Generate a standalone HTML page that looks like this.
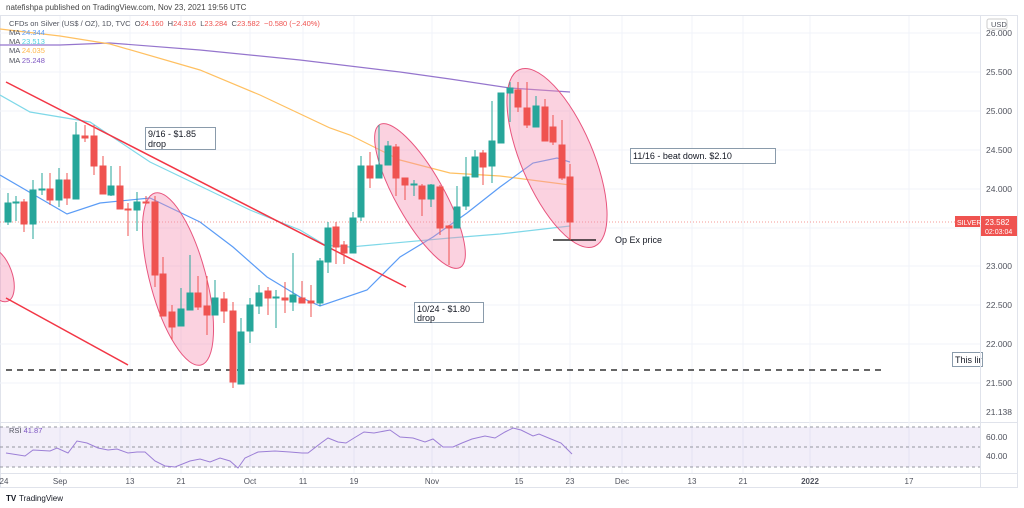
<!DOCTYPE html>
<html><head><meta charset="utf-8"><style>
html,body{margin:0;padding:0;background:#fff;width:1024px;height:508px;overflow:hidden}
svg text{font-family:"Liberation Sans",sans-serif}
</style></head><body>
<svg width="1024" height="508" viewBox="0 0 1024 508" xmlns="http://www.w3.org/2000/svg">
<rect x="0" y="0" width="1024" height="508" fill="#fff"/>
<text x="6" y="10" font-size="8" fill="#444">natefishpa published on TradingView.com, Nov 23, 2021 19:56 UTC</text>
<!-- frame -->
<rect x="0.5" y="15.5" width="1017" height="472" fill="none" stroke="#e0e3eb"/>
<line x1="980.5" y1="15" x2="980.5" y2="488" stroke="#e0e3eb"/>
<line x1="0" y1="422.5" x2="1018" y2="422.5" stroke="#e0e3eb"/>
<line x1="0" y1="473.5" x2="1018" y2="473.5" stroke="#e0e3eb"/>
<!-- grid -->
<g stroke="#f0f3fa" stroke-width="1">
<line x1="60" y1="16" x2="60" y2="473"/><line x1="130" y1="16" x2="130" y2="473"/><line x1="181" y1="16" x2="181" y2="473"/><line x1="250" y1="16" x2="250" y2="473"/><line x1="303" y1="16" x2="303" y2="473"/><line x1="354" y1="16" x2="354" y2="473"/><line x1="432" y1="16" x2="432" y2="473"/><line x1="519" y1="16" x2="519" y2="473"/><line x1="570" y1="16" x2="570" y2="473"/><line x1="622" y1="16" x2="622" y2="473"/><line x1="692" y1="16" x2="692" y2="473"/><line x1="743" y1="16" x2="743" y2="473"/><line x1="810" y1="16" x2="810" y2="473"/><line x1="909" y1="16" x2="909" y2="473"/>
<line x1="0" y1="33" x2="980" y2="33"/><line x1="0" y1="72" x2="980" y2="72"/><line x1="0" y1="111" x2="980" y2="111"/><line x1="0" y1="150" x2="980" y2="150"/><line x1="0" y1="189" x2="980" y2="189"/><line x1="0" y1="228" x2="980" y2="228"/><line x1="0" y1="266" x2="980" y2="266"/><line x1="0" y1="305" x2="980" y2="305"/><line x1="0" y1="344" x2="980" y2="344"/><line x1="0" y1="383" x2="980" y2="383"/>
</g>
<!-- price axis -->
<g font-size="8.5" fill="#50535e">
<rect x="987" y="19" width="20" height="10" rx="2" fill="none" stroke="#ccc"/><text x="991" y="27" font-size="7.5">USD</text>
<text x="986" y="36">26.000</text><text x="986" y="75">25.500</text><text x="986" y="114">25.000</text><text x="986" y="153">24.500</text><text x="986" y="192">24.000</text><text x="986" y="269">23.000</text><text x="986" y="308">22.500</text><text x="986" y="347">22.000</text><text x="986" y="386">21.500</text><text x="986" y="415">21.138</text>
<text x="986" y="440">60.00</text><text x="986" y="459">40.00</text>
</g>
<!-- RSI pane -->
<rect x="0" y="427" width="980" height="40" fill="#7e57c2" fill-opacity="0.1"/>
<g stroke="#9598a1" stroke-dasharray="3,3" stroke-width="1"><line x1="0" y1="427" x2="980" y2="427"/><line x1="0" y1="447" x2="980" y2="447"/><line x1="0" y1="467" x2="980" y2="467"/></g>
<text x="9" y="433" font-size="7.5" fill="#50535e">RSI <tspan fill="#7e57c2">41.87</tspan></text>
<polyline fill="none" stroke="#9c7fd6" stroke-width="1" points="6,453 25,456 33,450 50,451 57,448 68,453 77,441 87,443 98,448 108,450 117,449 128,453 137,452 145,452 155,461 165,466 175,467 190,461 200,459 210,462 220,458 230,461 238,468 245,458 258,452 275,451 290,452 302,453 308,453 321,443 328,438 338,442 346,443 354,438 364,432 374,433 390,430 400,437 413,438 425,442 433,439 443,447 453,447 462,443 472,439 485,436 495,438 505,432 513,428 521,430 533,436 539,434 551,439 561,443 572,454"/>
<!-- dates -->
<g font-size="8" fill="#50535e" text-anchor="middle">
<text x="4" y="484">24</text><text x="60" y="484">Sep</text><text x="130" y="484">13</text><text x="181" y="484">21</text><text x="250" y="484">Oct</text><text x="303" y="484">11</text><text x="354" y="484">19</text><text x="432" y="484">Nov</text><text x="519" y="484">15</text><text x="570" y="484">23</text><text x="622" y="484">Dec</text><text x="692" y="484">13</text><text x="743" y="484">21</text><text x="810" y="484" font-weight="bold">2022</text><text x="909" y="484">17</text>
</g>
<text x="6" y="501" font-size="8" font-weight="bold" fill="#131722">TV</text><text x="19" y="501" font-size="8" fill="#131722">TradingView</text>
<!-- MAs -->
<polyline fill="none" stroke="#9575cd" stroke-width="1.2" points="0,45 60,45 110,43 200,50 300,60 400,72 450,79 510,88 570,92"/>
<polyline fill="none" stroke="#ffc061" stroke-width="1.2" points="0,29 60,36 110,44 200,70 260,95 330,128 350,135 400,160 450,173 500,176 570,185"/>
<polyline fill="none" stroke="#7fd8e8" stroke-width="1.2" points="0,95 30,112 90,122 150,162 200,186 250,210 300,230 325,245 350,247 450,238 500,234 570,226"/>
<polyline fill="none" stroke="#5b9cf6" stroke-width="1.2" points="0,175 67,214 100,203 150,198 200,222 233,247 267,277 300,297 320,306 367,290 400,257 433,237 467,213 500,187 533,163 557,158 570,162"/>
<!-- dotted last price -->
<line x1="0" y1="222" x2="955" y2="222" stroke="#ef5350" stroke-opacity="0.6" stroke-dasharray="1,2"/>
<!-- ellipses -->
<g fill="#f48fb1" fill-opacity="0.4" stroke="#e8557e" stroke-width="1">
<ellipse cx="-2" cy="275" rx="28" ry="14" transform="rotate(70 -2 275)"/>
<ellipse cx="178" cy="279" rx="89" ry="28" transform="rotate(75 178 279)"/>
<ellipse cx="420" cy="196" rx="82" ry="24" transform="rotate(60.6 420 196)"/>
<ellipse cx="557" cy="158" rx="96" ry="36" transform="rotate(67 557 158)"/>
</g>
<!-- trendlines -->
<line x1="6" y1="82" x2="406" y2="287" stroke="#f23645" stroke-width="1.5"/>
<line x1="6" y1="298" x2="128" y2="365" stroke="#f23645" stroke-width="1.5"/>
<line x1="6" y1="370" x2="883" y2="370" stroke="#333" stroke-width="1.5" stroke-dasharray="6,5"/>
<line x1="553" y1="240" x2="596" y2="240" stroke="#000" stroke-width="1.3"/>
<!-- candles -->
<g id="c">
<g stroke="#26a69a" fill="#26a69a">
<line x1="8" y1="193" x2="8" y2="225"/><rect x="5" y="203" width="6" height="19"/>
<line x1="16" y1="196" x2="16" y2="221"/><rect x="13" y="202" width="6" height="1"/>
<line x1="33" y1="180" x2="33" y2="239"/><rect x="30" y="190" width="6" height="34"/>
<line x1="42" y1="173" x2="42" y2="195"/><rect x="39" y="189" width="6" height="1"/>
<line x1="59" y1="168" x2="59" y2="207"/><rect x="56" y="180" width="6" height="20"/>
<line x1="76" y1="122" x2="76" y2="199"/><rect x="73" y="135" width="6" height="64"/>
<line x1="111" y1="166" x2="111" y2="196"/><rect x="108" y="186" width="6" height="9"/>
<line x1="137" y1="192" x2="137" y2="231"/><rect x="134" y="202" width="6" height="8"/>
<line x1="181" y1="288" x2="181" y2="326"/><rect x="178" y="309" width="6" height="17"/>
<line x1="190" y1="255" x2="190" y2="310"/><rect x="187" y="293" width="6" height="17"/>
<line x1="215" y1="280" x2="215" y2="315"/><rect x="212" y="298" width="6" height="17"/>
<line x1="241" y1="318" x2="241" y2="384"/><rect x="238" y="332" width="6" height="52"/>
<line x1="250" y1="298" x2="250" y2="343"/><rect x="247" y="305" width="6" height="26"/>
<line x1="259" y1="285" x2="259" y2="314"/><rect x="256" y="293" width="6" height="13"/>
<line x1="276" y1="290" x2="276" y2="328"/><rect x="273" y="297" width="6" height="1"/>
<line x1="293" y1="253" x2="293" y2="311"/><rect x="290" y="295" width="6" height="7"/>
<line x1="320" y1="258" x2="320" y2="306"/><rect x="317" y="261" width="6" height="42"/>
<line x1="328" y1="222" x2="328" y2="273"/><rect x="325" y="228" width="6" height="34"/>
<line x1="353" y1="212" x2="353" y2="253"/><rect x="350" y="218" width="6" height="35"/>
<line x1="361" y1="156" x2="361" y2="221"/><rect x="358" y="166" width="6" height="51"/>
<line x1="379" y1="125" x2="379" y2="178"/><rect x="376" y="165" width="6" height="13"/>
<line x1="388" y1="141" x2="388" y2="165"/><rect x="385" y="146" width="6" height="19"/>
<line x1="414" y1="180" x2="414" y2="196"/><rect x="411" y="184" width="6" height="1"/>
<line x1="431" y1="184" x2="431" y2="207"/><rect x="428" y="185" width="6" height="14"/>
<line x1="457" y1="186" x2="457" y2="228"/><rect x="454" y="207" width="6" height="21"/>
<line x1="466" y1="157" x2="466" y2="210"/><rect x="463" y="177" width="6" height="29"/>
<line x1="475" y1="150" x2="475" y2="177"/><rect x="472" y="157" width="6" height="20"/>
<line x1="492" y1="101" x2="492" y2="183"/><rect x="489" y="141" width="6" height="25"/>
<line x1="501" y1="93" x2="501" y2="143"/><rect x="498" y="93" width="6" height="50"/>
<line x1="510" y1="82" x2="510" y2="122"/><rect x="507" y="88" width="6" height="5"/>
<line x1="536" y1="96" x2="536" y2="127"/><rect x="533" y="106" width="6" height="21"/>
</g>
<g stroke="#ef5350" fill="#ef5350">
<line x1="24" y1="199" x2="24" y2="232"/><rect x="21" y="202" width="6" height="22"/>
<line x1="50" y1="173" x2="50" y2="205"/><rect x="47" y="189" width="6" height="11"/>
<line x1="67" y1="173" x2="67" y2="205"/><rect x="64" y="180" width="6" height="18"/>
<line x1="85" y1="125" x2="85" y2="142"/><rect x="82" y="136" width="6" height="2"/>
<line x1="94" y1="125" x2="94" y2="175"/><rect x="91" y="136" width="6" height="30"/>
<line x1="103" y1="156" x2="103" y2="194"/><rect x="100" y="166" width="6" height="28"/>
<line x1="120" y1="166" x2="120" y2="209"/><rect x="117" y="186" width="6" height="23"/>
<line x1="128" y1="203" x2="128" y2="236"/><rect x="125" y="209" width="6" height="1"/>
<line x1="146" y1="196" x2="146" y2="204"/><rect x="143" y="202" width="6" height="1"/>
<line x1="155" y1="196" x2="155" y2="287"/><rect x="152" y="202" width="6" height="73"/>
<line x1="163" y1="257" x2="163" y2="316"/><rect x="160" y="274" width="6" height="42"/>
<line x1="172" y1="305" x2="172" y2="340"/><rect x="169" y="312" width="6" height="15"/>
<line x1="198" y1="276" x2="198" y2="310"/><rect x="195" y="293" width="6" height="14"/>
<line x1="207" y1="276" x2="207" y2="335"/><rect x="204" y="306" width="6" height="9"/>
<line x1="224" y1="292" x2="224" y2="323"/><rect x="221" y="299" width="6" height="12"/>
<line x1="233" y1="302" x2="233" y2="388"/><rect x="230" y="311" width="6" height="71"/>
<line x1="268" y1="287" x2="268" y2="315"/><rect x="265" y="291" width="6" height="7"/>
<line x1="285" y1="282" x2="285" y2="313"/><rect x="282" y="298" width="6" height="2"/>
<line x1="302" y1="281" x2="302" y2="303"/><rect x="299" y="298" width="6" height="5"/>
<line x1="311" y1="285" x2="311" y2="317"/><rect x="308" y="301" width="6" height="2"/>
<line x1="336" y1="222" x2="336" y2="264"/><rect x="333" y="227" width="6" height="20"/>
<line x1="344" y1="241" x2="344" y2="264"/><rect x="341" y="245" width="6" height="8"/>
<line x1="370" y1="152" x2="370" y2="188"/><rect x="367" y="166" width="6" height="12"/>
<line x1="396" y1="144" x2="396" y2="196"/><rect x="393" y="147" width="6" height="31"/>
<line x1="405" y1="178" x2="405" y2="200"/><rect x="402" y="178" width="6" height="7"/>
<line x1="422" y1="184" x2="422" y2="216"/><rect x="419" y="186" width="6" height="13"/>
<line x1="440" y1="185" x2="440" y2="235"/><rect x="437" y="187" width="6" height="41"/>
<line x1="449" y1="225" x2="449" y2="265"/><rect x="446" y="226" width="6" height="2"/>
<line x1="483" y1="150" x2="483" y2="185"/><rect x="480" y="153" width="6" height="14"/>
<line x1="518" y1="82" x2="518" y2="112"/><rect x="515" y="90" width="6" height="17"/>
<line x1="527" y1="82" x2="527" y2="128"/><rect x="524" y="108" width="6" height="17"/>
<line x1="545" y1="99" x2="545" y2="141"/><rect x="542" y="107" width="6" height="34"/>
<line x1="553" y1="115" x2="553" y2="145"/><rect x="550" y="127" width="6" height="15"/>
<line x1="562" y1="120" x2="562" y2="180"/><rect x="559" y="145" width="6" height="33"/>
<line x1="570" y1="164" x2="570" y2="240"/><rect x="567" y="177" width="6" height="45"/>
</g>
</g>
<!-- annotations -->
<g font-size="9" fill="#131722">
<rect x="145.5" y="127.5" width="70" height="22" fill="#fff" fill-opacity="0.85" stroke="#8a9bab"/>
<text x="148" y="137">9/16 - $1.85</text><text x="148" y="147">drop</text>
<rect x="414.5" y="302.5" width="69" height="20" fill="#fff" fill-opacity="0.85" stroke="#8a9bab"/>
<text x="417" y="312">10/24 - $1.80</text><text x="417" y="321">drop</text>
<rect x="630.5" y="148.5" width="145" height="15" fill="#fff" stroke="#8a9bab"/>
<text x="633" y="159">11/16 - beat down. $2.10</text>
<text x="615" y="243">Op Ex price</text>
<rect x="952.5" y="352.5" width="30" height="14" fill="#fff" stroke="#8a9bab"/>
<text x="955" y="363">This lir</text>
</g>
<rect x="980" y="352" width="1" height="15" fill="#e0e3eb"/>
<!-- price labels -->
<rect x="955" y="216" width="25" height="11" fill="#ef5350"/>
<text x="957" y="225" font-size="7" fill="#fff">SILVER</text>
<rect x="981" y="216" width="36" height="20" fill="#ef5350"/>
<text x="985" y="225" font-size="8" fill="#fff">23.582</text>
<text x="985" y="234" font-size="7" fill="#fff">02:03:04</text>
<!-- legend -->
<g font-size="7.5" fill="#50535e">
<text x="9" y="26">CFDs on Silver (US$ / OZ), 1D, TVC&#160;&#160;O<tspan fill="#ef5350">24.160</tspan>&#160;&#160;H<tspan fill="#ef5350">24.316</tspan>&#160;&#160;L<tspan fill="#ef5350">23.284</tspan>&#160;&#160;C<tspan fill="#ef5350">23.582&#160;&#160;−0.580 (−2.40%)</tspan></text>
<text x="9" y="35">MA <tspan fill="#5b9cf6">24.344</tspan></text>
<text x="9" y="44">MA <tspan fill="#4dd0e1">23.513</tspan></text>
<text x="9" y="53">MA <tspan fill="#ffb74d">24.035</tspan></text>
<text x="9" y="63">MA <tspan fill="#7e57c2">25.248</tspan></text>
</g>
</svg>
</body></html>
